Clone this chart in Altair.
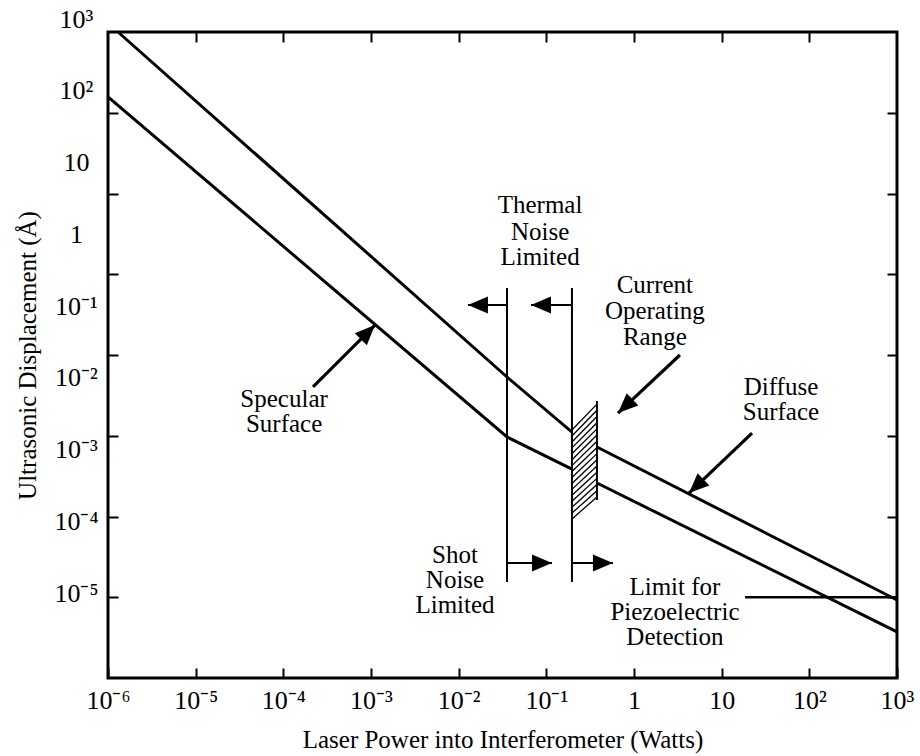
import math
import altair as alt
import pandas as pd

FONT = "Liberation Serif"
FS = 25
TICK_FS = 26
W, H = 789, 646
X_DOMAIN = [1e-6, 1e3]
Y_DOMAIN = [1e-6, 1e2]
LABEL_DOMAIN = [1e-6, 1e3]

# ---------------- data ----------------
x_tick_values = [1e-6, 1e-5, 1e-4, 1e-3, 1e-2, 1e-1, 1, 10, 100, 1000]
x_tick_labels = ["10⁻⁶", "10⁻⁵", "10⁻⁴", "10⁻³", "10⁻²", "10⁻¹", "1", "10", "10²", "10³"]
y_tick_values = [1e-5, 1e-4, 1e-3, 1e-2, 1e-1, 1, 10]
y_label_values = [1e-5, 1e-4, 1e-3, 1e-2, 1e-1, 1, 10, 100, 1000]
y_label_texts = ["10⁻⁵", "10⁻⁴", "10⁻³", "10⁻²", "10⁻¹", "1", "10", "10²", "10³"]

upper_power = [1.30e-6, 0.0356, 0.196, 0.378, 1000]
upper_disp = [100, 5.34e-3, 1.11e-3, 7.26e-4, 9.25e-6]
lower_power = [1e-6, 0.0356, 0.196, 0.378, 1000]
lower_disp = [15.7, 9.66e-4, 3.87e-4, 2.60e-4, 3.72e-6]

limit_power = [0.0356, 0.196]
limit_top = 0.0676
limit_bottom = 1.55e-5

range_power = [0.196, 0.378]
range_top = [1.28e-3, 2.69e-3]
range_bottom = [8.55e-5, 1.60e-4]
hatch_count = 16

piezo_power = [18.5, 1000]
piezo_disp = 1e-5

arrow_x1 = [0.0356, 0.196, 0.0356, 0.196, 2.18e-4, 3.34, 22.2]
arrow_y1 = [0.0416, 0.0416, 2.65e-5, 2.65e-5, 4.02e-3, 0.0100, 1.08e-3]
arrow_x2 = [0.01276, 0.0668, 0.116, 0.575, 1.11e-3, 0.656, 4.24]
arrow_y2 = [0.0416, 0.0416, 2.65e-5, 2.65e-5, 0.0235, 1.91e-3, 1.95e-4]
arrow_w = [2, 2, 2, 2, 3.2, 3.2, 3.2]

label_text = ["Thermal", "Noise", "Limited",
              "Current", "Operating", "Range",
              "Diffuse", "Surface",
              "Specular", "Surface",
              "Shot", "Noise", "Limited",
              "Limit for", "Piezoelectric", "Detection"]
label_x = [0.0848, 0.0848, 0.0848,
           1.73, 1.73, 1.73,
           47.5, 47.5,
           1.02e-4, 1.02e-4,
           9.08e-3, 9.08e-3, 9.08e-3,
           2.93, 2.93, 2.93]
label_y = [0.721, 0.333, 0.164,
           0.0736, 0.0351, 0.0167,
           4.02e-3, 1.97e-3,
           2.85e-3, 1.40e-3,
           3.33e-5, 1.64e-5, 8.02e-6,
           1.34e-5, 6.56e-6, 3.22e-6]

# ---------------- tables ----------------
curves_df = pd.DataFrame({
    "power": upper_power + lower_power,
    "disp": upper_disp + lower_disp,
    "series": ["upper"] * len(upper_power) + ["lower"] * len(lower_power),
    "order": list(range(len(upper_power))) + list(range(len(lower_power))),
})

limits_df = pd.DataFrame({"power": limit_power, "top": limit_top, "bottom": limit_bottom})

range_df = pd.DataFrame({"power": range_power, "top": range_top, "bottom": range_bottom})

lt, lb = math.log10(range_top[0]), math.log10(range_bottom[0])
rt, rb = math.log10(range_top[1]), math.log10(range_bottom[1])
hatch_rows = []
for i in range(hatch_count):
    t = (i + 0.5) / hatch_count
    hatch_rows.append({
        "x1": range_power[0], "y1": 10 ** (lt + t * (lb - lt)),
        "x2": range_power[1], "y2": 10 ** (rt + t * (rb - rt)),
    })
hatch_df = pd.DataFrame(hatch_rows)

edge_df = pd.DataFrame({"power": [range_power[1]], "top": [range_top[1]], "bottom": [range_bottom[1]]})

piezo_df = pd.DataFrame({"x1": [piezo_power[0]], "x2": [piezo_power[1]], "y": [piezo_disp]})


def to_px(x, y):
    px = (math.log10(x) - math.log10(X_DOMAIN[0])) / (math.log10(X_DOMAIN[1]) - math.log10(X_DOMAIN[0])) * W
    py = (math.log10(Y_DOMAIN[1]) - math.log10(y)) / (math.log10(Y_DOMAIN[1]) - math.log10(Y_DOMAIN[0])) * H
    return px, py


angles = []
for a, b, c, d in zip(arrow_x1, arrow_y1, arrow_x2, arrow_y2):
    p1, q1 = to_px(a, b)
    p2, q2 = to_px(c, d)
    angles.append(math.degrees(math.atan2(p2 - p1, -(q2 - q1))) % 360)

arrows_df = pd.DataFrame({"x1": arrow_x1, "y1": arrow_y1, "x2": arrow_x2, "y2": arrow_y2,
                          "w": arrow_w, "angle": angles})

labels_df = pd.DataFrame({"text": label_text, "x": label_x, "y": label_y})
ylab_df = pd.DataFrame({"v": y_label_values, "x": [1.0] * len(y_label_values)})


# ---------------- scales / axes ----------------
def xs():
    return alt.Scale(type="log", domain=X_DOMAIN)


def ys():
    return alt.Scale(type="log", domain=Y_DOMAIN)


x_label_expr = "[" + ",".join("'" + s + "'" for s in x_tick_labels) + "][round(log(datum.value)/LN10)+6]"
y_label_expr = "[" + ",".join("'" + s + "'" for s in y_label_texts) + "][round(log(datum.value)/LN10)+5]"

tick_common = dict(offset=-10, tickSize=10, tickWidth=2, tickColor="black",
                   domain=False, grid=False)

bottom_axis = alt.Axis(orient="bottom", values=x_tick_values, labelExpr=x_label_expr,
                       labelFont=FONT, labelFontSize=TICK_FS, labelColor="black", labelPadding=9,
                       labelFlush=False, labelOverlap=False, labelBaseline="top",
                       title="Laser Power into Interferometer (Watts)", titleFont=FONT,
                       titleFontSize=FS, titleFontWeight="normal", titleColor="black",
                       titleY=71, titleBaseline="middle", **tick_common)
top_axis = alt.Axis(orient="top", values=x_tick_values[1:-1], labels=False, title=None, **tick_common)
left_axis = alt.Axis(orient="left", values=y_tick_values, labels=False, title=None, **tick_common)
right_axis = alt.Axis(orient="right", values=y_tick_values, labels=False, title=None, **tick_common)
label_axis = alt.Axis(orient="left", values=y_label_values, labelExpr=y_label_expr,
                      ticks=False, tickSize=0, domain=False, grid=False,
                      labelAlign="center", labelBaseline="middle", labelPadding=32,
                      labelOffset=-13, labelFont=FONT, labelFontSize=TICK_FS, labelColor="black",
                      labelOverlap=False, labelFlush=False,
                      title="Ultrasonic Displacement (Å)", titleFont=FONT, titleFontSize=FS,
                      titleFontWeight="normal", titleColor="black", titleAngle=270,
                      titleX=-81, titleY=H / 2, titleAlign="center", titleBaseline="middle")

# ---------------- layers ----------------
curves = alt.Chart(curves_df).mark_line(color="black", strokeWidth=3).encode(
    x=alt.X("power:Q", scale=xs(), axis=bottom_axis),
    y=alt.Y("disp:Q", scale=ys(), axis=left_axis),
    detail="series:N",
    order="order:Q",
)

range_fill = alt.Chart(range_df).mark_area(color="white", opacity=1).encode(
    x=alt.X("power:Q", scale=xs(), axis=None),
    y=alt.Y("top:Q", scale=ys(), axis=None),
    y2="bottom:Q",
)

hatch = alt.Chart(hatch_df).mark_rule(color="black", strokeWidth=1.3).encode(
    x=alt.X("x1:Q", scale=xs(), axis=None),
    y=alt.Y("y1:Q", scale=ys(), axis=None),
    x2="x2:Q",
    y2="y2:Q",
)

edge = alt.Chart(edge_df).mark_rule(color="black", strokeWidth=2).encode(
    x=alt.X("power:Q", scale=xs(), axis=None),
    y=alt.Y("top:Q", scale=ys(), axis=None),
    y2="bottom:Q",
)

limits = alt.Chart(limits_df).mark_rule(color="black", strokeWidth=2).encode(
    x=alt.X("power:Q", scale=xs(), axis=None),
    y=alt.Y("top:Q", scale=ys(), axis=None),
    y2="bottom:Q",
)

piezo = alt.Chart(piezo_df).mark_rule(color="black", strokeWidth=2.5).encode(
    x=alt.X("x1:Q", scale=xs(), axis=top_axis),
    x2="x2:Q",
    y=alt.Y("y:Q", scale=ys(), axis=right_axis),
)

shafts = alt.Chart(arrows_df).mark_rule(color="black").encode(
    x=alt.X("x1:Q", scale=xs(), axis=None),
    y=alt.Y("y1:Q", scale=ys(), axis=None),
    x2="x2:Q",
    y2="y2:Q",
    strokeWidth=alt.StrokeWidth("w:Q", scale=None),
)

heads = alt.Chart(arrows_df).mark_point(
    shape="M0,0L-0.85,2L0.85,2Z", filled=True, size=400, color="black", opacity=1
).encode(
    x=alt.X("x2:Q", scale=xs(), axis=None),
    y=alt.Y("y2:Q", scale=ys(), axis=None),
    angle=alt.Angle("angle:Q", scale=None),
)

texts = alt.Chart(labels_df).mark_text(
    font=FONT, fontSize=FS, color="black", align="center", baseline="middle"
).encode(
    x=alt.X("x:Q", scale=xs(), axis=None),
    y=alt.Y("y:Q", scale=ys(), axis=None),
    text="text:N",
)

ylabels = alt.Chart(ylab_df).mark_point(opacity=0).encode(
    x=alt.X("x:Q", scale=xs(), axis=None),
    y=alt.Y("v:Q", scale=alt.Scale(type="log", domain=LABEL_DOMAIN), axis=label_axis),
)

chart = alt.layer(
    curves, range_fill, hatch, edge, limits, piezo, shafts, heads, texts, ylabels
).resolve_scale(
    y="independent"
).resolve_axis(
    x="independent", y="independent"
).properties(
    width=W, height=H,
    autosize=alt.AutoSizeParams(type="none"),
    padding={"left": 108, "top": 32, "right": 23, "bottom": 78},
    background="white",
).configure_view(stroke="black", strokeWidth=3)

chart.save("out.html", embed_options={"renderer": "svg", "actions": False})
